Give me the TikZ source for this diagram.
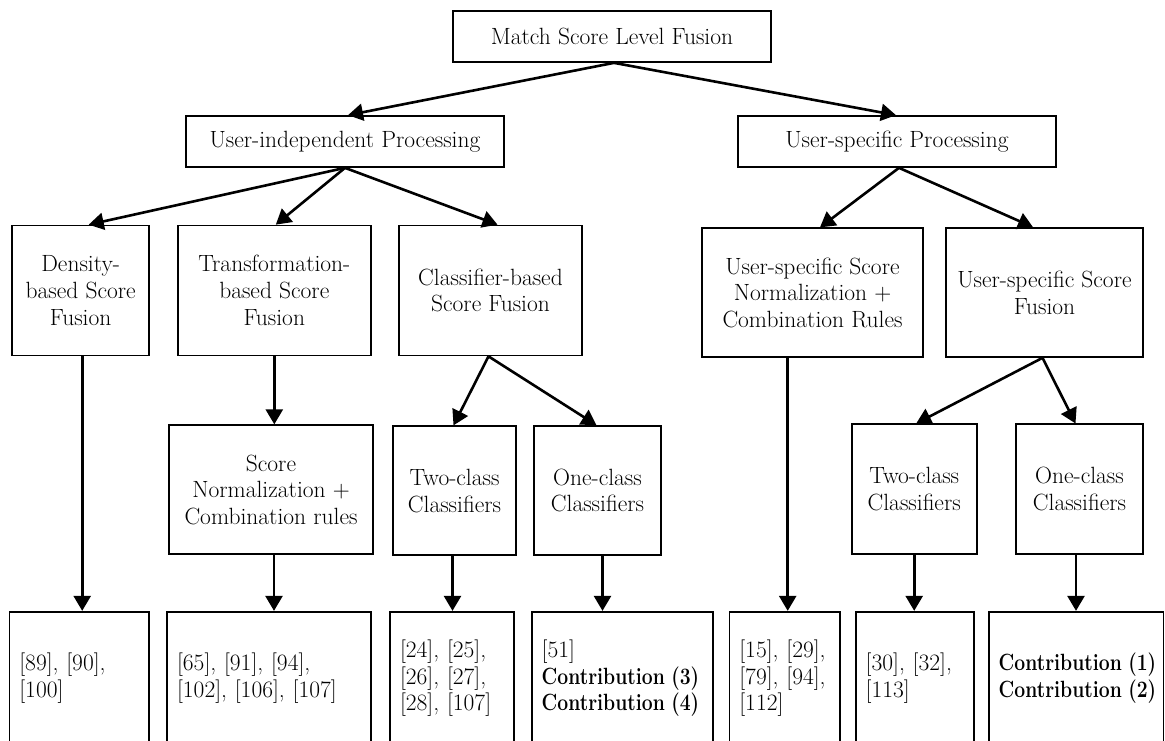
\documentclass[tikz,border=0pt]{standalone}
\usepackage{graphicx}
\usetikzlibrary{arrows.meta,calc}
\newcommand{\contrib}[1]{\scalebox{0.823}[1]{\bfseries Contribution (#1)}}
\begin{document}
\begin{tikzpicture}[x=1pt,y=-1pt,
  txt/.style={font=\fontsize{23.5}{26.7}\selectfont},
  box/.style={txt, draw, line width=1.7pt, inner sep=0pt, align=center},
  refbox/.style={txt, draw, line width=1.7pt, inner xsep=10pt, inner ysep=0pt, align=left, minimum height=133.3pt},
  arr/.style={line width=2.6pt, -{Triangle[length=15pt,width=17pt]}}]
\useasboundingbox (0,0) rectangle (1165,740);
\clip (0,0) rectangle (1165,740);

% level 0
\node[box, minimum width=318pt, minimum height=51pt] (top) at (612,36.5) {Match Score Level Fusion};
% level 1
\node[box, minimum width=318pt, minimum height=51pt] (ui) at (345,141.5) {User-independent Processing};
\node[box, minimum width=318pt, minimum height=51pt] (us) at (897,141.5) {User-specific Processing};
% level 2
\node[box, minimum width=137pt, minimum height=130pt] (dens) at (80.7,290.5) {Density-\\based Score\\Fusion};
\node[box, minimum width=193pt, minimum height=130pt] (tr) at (274.3,290.5) {Transformation-\\based Score\\Fusion};
\node[box, minimum width=183pt, minimum height=130pt] (cl) at (490.5,290.5) {Classifier-based\\Score Fusion};
\node[box, minimum width=221pt, minimum height=129pt] (usn) at (812.5,292.7) {User-specific Score\\Normalization +\\Combination Rules};
\node[box, minimum width=197pt, minimum height=129pt] (usf) at (1044.5,292.5) {User-specific Score\\Fusion};
% level 3
\node[box, minimum width=204pt, minimum height=129pt] (sn) at (271,489.7) {Score\\Normalization +\\Combination rules};
\node[box, minimum width=123pt, minimum height=129pt] (tc) at (454.5,490.7) {Two-class\\Classifiers};
\node[box, minimum width=127pt, minimum height=129pt] (oc) at (597.5,490.5) {One-class\\Classifiers};
\node[box, minimum width=125pt, minimum height=130pt] (tc2) at (914.2,489.3) {Two-class\\Classifiers};
\node[box, minimum width=127.6pt, minimum height=130pt] (oc2) at (1079.5,489.3) {One-class\\Classifiers};
% references
\node[refbox, text width=119.7pt] (b1) at (79.2,678.35) {[89], [90],\\\relax [100]};
\node[refbox, text width=183.7pt] (b2) at (268.9,678.35) {[65], [91], [94],\\\relax [102], [106], [107]};
\node[refbox, text width=104pt] (b3) at (452,678.35) {[24], [25],\\\relax [26], [27],\\\relax [28], [107]};
\node[refbox, text width=161pt] (b4) at (622.2,678.35) {[51]\\\contrib{3}\\\contrib{4}};
\node[refbox, text width=90.7pt] (b5) at (784.7,678.35) {[15], [29],\\\relax [79], [94],\\\relax [112]};
\node[refbox, text width=98pt] (b6) at (914.7,678.35) {[30], [32],\\\relax [113]};
\node[refbox, text width=154.8pt] (b7) at (1076.1,678.35) {\contrib{1}\\\contrib{2}};

% connectors
\draw[arr] ([xshift=2pt]top.south) -- ([xshift=3pt]ui.north);
\draw[arr] ([xshift=2pt]top.south) -- ([xshift=-1pt]us.north);
\draw[arr] (ui.south) -- ([xshift=8pt]dens.north);
\draw[arr] (ui.south) -- ([xshift=1.5pt]tr.north);
\draw[arr] (ui.south) -- ([xshift=7pt]cl.north);
\draw[arr] ([xshift=2pt]us.south) -- ([xshift=7.5pt]usn.north);
\draw[arr] ([xshift=2pt]us.south) -- ([xshift=-11.5pt]usf.north);
\draw[arr] (tr.south) -- (tr.south |- sn.north);
\draw[arr] ([xshift=-2pt]cl.south) -- ([xshift=-1pt]tc.north);
\draw[arr] ([xshift=-2pt]cl.south) -- ([xshift=-1pt]oc.north);
\draw[arr] ([xshift=-2pt]usf.south) -- ([xshift=2pt]tc2.north);
\draw[arr] ([xshift=-2pt]usf.south) -- ([xshift=-4pt]oc2.north);
\draw[arr] ([xshift=1.5pt]dens.south) -- ([xshift=1.5pt]dens.south |- b1.north);
\draw[arr] ([xshift=3pt]sn.south) -- ([xshift=3pt]sn.south |- b2.north);
\draw[arr] ([xshift=-2pt]tc.south) -- ([xshift=-2pt]tc.south |- b3.north);
\draw[arr] ([xshift=5pt]oc.south) -- ([xshift=5pt]oc.south |- b4.north);
\draw[arr] ([xshift=3pt]b5.north |- usn.south) -- ([xshift=3pt]b5.north);
\draw[arr] (tc2.south) -- (tc2.south |- b6.north);
\draw[arr] ([xshift=-3.5pt]oc2.south) -- ([xshift=-3.5pt]oc2.south |- b7.north);
\end{tikzpicture}
\end{document}
